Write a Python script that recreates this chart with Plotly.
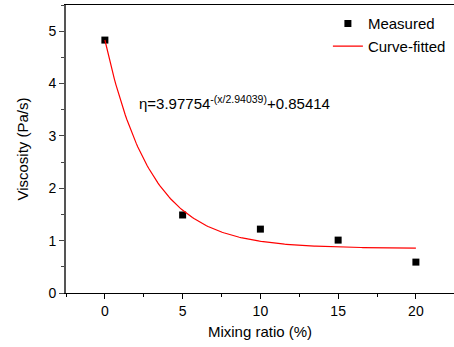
import numpy as np
import plotly.graph_objects as go

mix_ratio = [0, 5, 10, 15, 20]
viscosity = [4.83, 1.49, 1.22, 1.01, 0.59]
x_ticks = [0, 5, 10, 15, 20]
y_ticks = [0, 1, 2, 3, 4, 5]

A, t, y0 = 3.97754, 2.94039, 0.85414
xf = np.linspace(0, 20, 200)
yf = A * np.exp(-xf / t) + y0

fig = go.Figure()
fig.add_trace(go.Scatter(x=mix_ratio, y=viscosity, mode="markers", name="Measured",
                         marker=dict(symbol="square", size=7, color="black")))
fig.add_trace(go.Scatter(x=xf, y=yf, mode="lines", name="Curve-fitted",
                         line=dict(color="red", width=1.2)))

fig.add_annotation(x=2.06, y=3.63, xref="x", yref="y", xanchor="left", yanchor="middle",
                   text="η=3.97754<sup>-(x/2.94039)</sup>+0.85414", showarrow=False,
                   font=dict(size=15, color="black"))

font = "Liberation Sans, Arial, sans-serif"
fig.update_layout(
    width=454, height=347,
    margin=dict(l=66, r=0, t=5, b=54),
    paper_bgcolor="white", plot_bgcolor="white",
    font=dict(family=font, size=14, color="black"),
    showlegend=True,
    legend=dict(x=0.675, y=0.992, xanchor="left", yanchor="top", bgcolor="rgba(0,0,0,0)",
                font=dict(size=15), tracegroupgap=0, itemwidth=30),
    xaxis=dict(range=[-2.5, 22.45], tickvals=x_ticks, ticks="outside", ticklen=5,
               tickcolor="black", showline=True, linecolor="black", linewidth=1, mirror=True,
               showgrid=False, zeroline=False,
               minor=dict(dtick=2.5, tick0=0, ticks="outside", ticklen=3, tickcolor="black"),
               title=dict(text="Mixing ratio (%)", font=dict(size=15), standoff=8)),
    yaxis=dict(range=[0, 5.5], tickvals=y_ticks, ticks="outside", ticklen=5,
               tickcolor="#444", showline=True, linecolor="#555", linewidth=2, mirror=False,
               showgrid=False, zeroline=False,
               minor=dict(dtick=0.5, tick0=0, ticks="outside", ticklen=3, tickcolor="#444"),
               title=dict(text="Viscosity (Pa/s)", font=dict(size=15), standoff=16)),
)

fig.write_html("out.html", config={"displayModeBar": False},
               post_script="document.body.style.margin='0';")
